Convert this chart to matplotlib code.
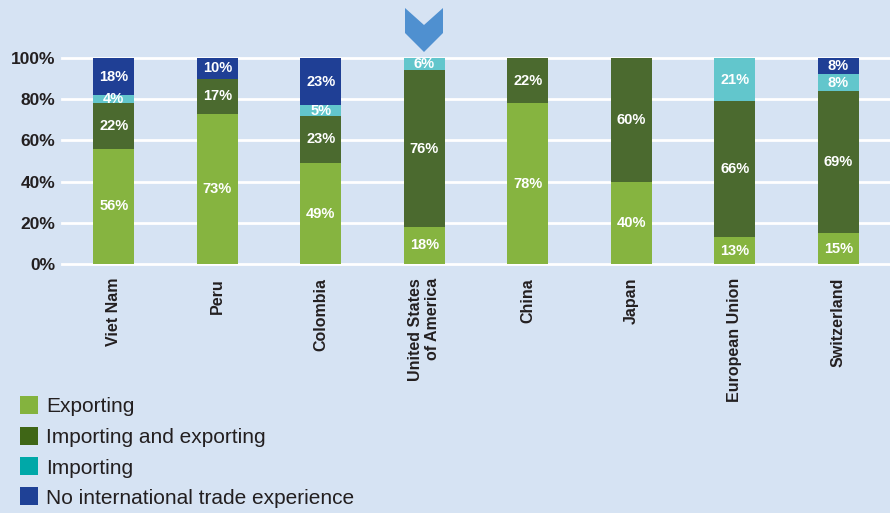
import matplotlib
matplotlib.use("Agg")
import matplotlib.pyplot as plt
from matplotlib.patches import Polygon, Rectangle
import numpy as np

plt.rcParams['font.family'] = ['Liberation Sans', 'DejaVu Sans']

categories = ["Viet Nam", "Peru", "Colombia", "United States\nof America", "China",
              "Japan", "European Union", "Switzerland"]
exporting = [56, 73, 49, 18, 78, 40, 13, 15]
imp_exp = [22, 17, 23, 76, 22, 60, 66, 69]
importing = [4, 0, 5, 6, 0, 0, 21, 8]
no_trade = [18, 10, 23, 0, 0, 0, 0, 8]
series_names = ["Exporting", "Importing and exporting", "Importing",
                "No international trade experience"]
yticks = [0, 20, 40, 60, 80, 100]
ytick_labels = ["0%", "20%", "40%", "60%", "80%", "100%"]

bar_colors = ["#86b440", "#4b6a2f", "#62c6cc", "#1f3f95"]
legend_colors = ["#84b33e", "#3f6616", "#00a8a8", "#1f4196"]
bg = "#d6e3f3"
txt = "#231f20"

W, H = 890, 513
fig = plt.figure(figsize=(W / 100, H / 100), dpi=100, facecolor=bg)
ax = fig.add_axes([62 / W, 1 - 264 / H, (W - 62) / W, (264 - 58) / H])
ax.set_facecolor(bg)
ax.set_ylim(0, 100)
ax.set_xlim(-0.5, len(categories) - 0.5)

x = np.arange(len(categories))
bottom = np.zeros(len(categories))
for vals, col in zip([exporting, imp_exp, importing, no_trade], bar_colors):
    vals = np.array(vals, dtype=float)
    ax.bar(x, vals, bottom=bottom, width=0.4, color=col, zorder=3, clip_on=False)
    for xi, b, v in zip(x, bottom, vals):
        if v > 0:
            ax.text(xi, b + v / 2, f"{int(v)}%", ha="center", va="center",
                    color="white", fontsize=10.5, fontweight="bold", zorder=4)
    bottom += vals

for yv in yticks:
    ax.axhline(yv, color="white", lw=2, zorder=1, clip_on=False)

ax.set_yticks(yticks)
ax.set_yticklabels(ytick_labels, fontsize=12.5, fontweight="bold", color=txt)
ax.set_xticks(x)
ax.set_xticklabels(categories, rotation=90, fontsize=11.5, fontweight="bold",
                   color=txt, va="top", ha="center", multialignment="right")
ax.tick_params(length=0, pad=5)
ax.tick_params(axis="x", pad=10)
for s in ax.spines.values():
    s.set_visible(False)

# chevron marker above USA bar
pts = [(405, 8), (424, 25), (443, 8), (443, 33), (424, 52), (405, 33)]
poly = Polygon([(px / W, 1 - py / H) for px, py in pts], closed=True,
               transform=fig.transFigure, facecolor="#4f90d0", edgecolor="none")
fig.add_artist(poly)

# legend drawn manually in figure pixels
row_y = [405, 435.5, 466, 496]
for name, col, yc in zip(series_names, legend_colors, row_y):
    fig.add_artist(Rectangle((20 / W, 1 - (yc + 9) / H), 18 / W, 18 / H,
                             transform=fig.transFigure, facecolor=col, edgecolor="none"))
    fig.text(46 / W, 1 - yc / H, name, ha="left", va="center_baseline",
             fontsize=15, color=txt)

fig.savefig("out.png", dpi=100, facecolor=bg)
